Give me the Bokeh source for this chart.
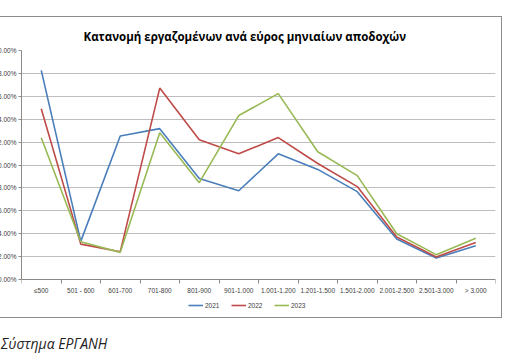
from bokeh.plotting import figure
from bokeh.models import (Range1d, LinearAxis, FixedTicker,
                          PrintfTickFormatter, Legend, LegendItem, Div)
from bokeh.layouts import column
from bokeh.embed import file_html
from bokeh.resources import INLINE

categories = ["≤500", "501 - 600", "601-700", "701-800", "801-900", "901-1.000",
              "1.001-1.200", "1.201-1.500", "1.501-2.000", "2.001-2.500", "2.501-3.000", "> 3.000"]
y2021 = [18.26, 3.34, 12.54, 13.18, 8.82, 7.76, 10.98, 9.62, 7.68, 3.54, 1.88, 2.96]
y2022 = [14.92, 3.10, 2.44, 16.72, 12.20, 10.98, 12.40, 10.14, 8.12, 3.72, 1.98, 3.24]
y2023 = [12.38, 3.30, 2.38, 12.82, 8.46, 14.32, 16.24, 11.16, 9.08, 4.00, 2.18, 3.62]
series_names = ["2021", "2022", "2023"]
y_ticks = [0, 2, 4, 6, 8, 10, 12, 14, 16, 18, 20]
title_text = "Κατανομή εργαζομένων ανά εύρος μηνιαίων αποδοχών"
source_text = "Σύστημα ΕΡΓΑΝΗ"

colors = ["#4A7EBB", "#BE4B48", "#98B954"]
label_font = "Liberation Sans"

n = len(categories)
xpos = [i + 0.5 for i in range(n)]

# layout constants (pixels)
plot_px = 230.0            # height of the 0..20 band
px_per_unit = plot_px / y_ticks[-1]
below_zero_px = 33.0       # frame extends below y=0 to hold the legend
label_px = 16.0            # where the category-label axis sits below y=0

p = figure(x_range=Range1d(0, n), y_range=Range1d(-below_zero_px / px_per_unit, y_ticks[-1]),
           width=562, height=302, output_backend="svg", toolbar_location=None,
           x_axis_location=None, y_axis_location=None,
           min_border_left=50, min_border_right=8, min_border_top=33, min_border_bottom=7)
p.outline_line_color = None
p.background_fill_color = "white"
p.border_fill_color = "white"

# y axis
yax = LinearAxis(ticker=FixedTicker(ticks=y_ticks), formatter=PrintfTickFormatter(format="%.2f%%"),
                 bounds=(0, y_ticks[-1]))
yax.axis_line_color = "#8a8a8a"
yax.major_tick_line_color = "#8a8a8a"
yax.major_tick_out = 3
yax.major_tick_in = 0
yax.minor_tick_line_color = None
yax.major_label_text_font = label_font
yax.major_label_text_font_size = "6.5px"
yax.major_label_text_color = "#404040"
yax.major_label_standoff = 2
p.add_layout(yax, "left")

# x axis line with tick marks at category boundaries, at y = 0
xt = LinearAxis(ticker=FixedTicker(ticks=[], minor_ticks=list(range(n + 1))), fixed_location=0)
xt.axis_line_color = "#8a8a8a"
xt.major_tick_line_color = None
xt.major_tick_out = 0
xt.minor_tick_line_color = "#8a8a8a"
xt.minor_tick_out = 4
xt.minor_tick_in = 0
p.add_layout(xt, "below")

# category labels at centres
xax = LinearAxis(ticker=FixedTicker(ticks=xpos),
                 major_label_overrides={x: c for x, c in zip(xpos, categories)},
                 fixed_location=-label_px / px_per_unit)
xax.axis_line_color = None
xax.major_tick_line_color = None
xax.minor_tick_line_color = None
xax.major_tick_out = 0
xax.major_tick_in = 0
xax.major_label_text_font = label_font
xax.major_label_text_font_size = "6.5px"
xax.major_label_text_color = "#404040"
xax.major_label_standoff = -9
p.add_layout(xax, "below")

p.xgrid.grid_line_color = None
p.ygrid.ticker = FixedTicker(ticks=y_ticks)
p.ygrid.grid_line_color = "#bdbdbd"

renderers = []
for name, vals, c in zip(series_names, [y2021, y2022, y2023], colors):
    r = p.line(xpos, vals, line_color=c, line_width=1.6)
    renderers.append(r)

legend = Legend(items=[LegendItem(label=s, renderers=[r]) for s, r in zip(series_names, renderers)],
                orientation="horizontal", location=(167, 3))
legend.glyph_width = 15
legend.glyph_height = 8
legend.label_standoff = 2
legend.spacing = 6
legend.padding = 0
legend.margin = 0
legend.label_text_font = label_font
legend.label_text_font_size = "6.5px"
legend.label_text_color = "#404040"
legend.label_height = 8
legend.border_line_color = None
legend.background_fill_alpha = 0
p.add_layout(legend)

p.title.text = title_text
p.title.text_font = "Open Sans"
p.title.text_font_size = "11.5px"
p.title.text_font_style = "bold"
p.title.text_color = "#000000"
p.title.align = "left"
p.title.offset = 62
p.title.standoff = 14

p.styles = {"margin-left": "-30px", "margin-top": "16px", "border": "1px solid #8c8c8c"}

src = Div(text=source_text, styles={"font-family": "Open Sans", "font-style": "italic",
                                    "font-size": "14px", "color": "#222222",
                                    "margin-left": "1px", "margin-top": "16px"})

layout = column(p, src)
open("out.html", "w").write(file_html(layout, INLINE))
